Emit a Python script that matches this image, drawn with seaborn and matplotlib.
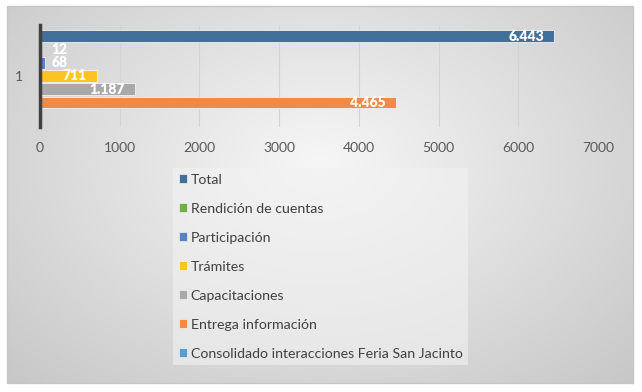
import numpy as np
import pandas as pd
import matplotlib.pyplot as plt
from matplotlib.patches import Patch, Rectangle
import seaborn as sns

# Datos
categoria = ["1"]
series = ["Total", "Rendición de cuentas", "Participación", "Trámites",
          "Capacitaciones", "Entrega información",
          "Consolidado interacciones Feria San Jacinto"]
valores = [6443, 12, 68, 711, 1187, 4465, 0]
etiquetas = ["6.443", "12", "68", "711", "1.187", "4.465", ""]
colores = ["#42709b", "#70ad47", "#5a80c6", "#fcc423", "#a9a9a9", "#ef8a48", "#5b9bd5"]
xticks = [0, 1000, 2000, 3000, 4000, 5000, 6000, 7000]

df = pd.DataFrame({"cat": categoria * len(series), "serie": series, "valor": valores})

sns.set_theme(style="white")
plt.rcParams["font.family"] = ["Lato", "DejaVu Sans"]

W, H = 642, 392
fig = plt.figure(figsize=(W / 100, H / 100), dpi=100)
fig.patch.set_facecolor("white")

# fondo con degradado radial
bg = fig.add_axes([0, 0, 1, 1], zorder=-5)
bg.set_xlim(0, W)
bg.set_ylim(H, 0)
bg.axis("off")
gx, gy = np.meshgrid(np.linspace(0, 1, 300), np.linspace(0, 1, 200))
r = np.sqrt(((gx - 0.5) / 0.5) ** 2 + ((gy - 0.42) / 0.58) ** 2)
light = 0.965 - 0.19 * np.clip(r, 0, 1.45) / 1.45
bg.imshow(light, cmap="gray", vmin=0, vmax=1, extent=[7, 633, 383, 6],
          aspect="auto", interpolation="bicubic")
bg.add_patch(Rectangle((7, 6), 626, 377, fill=False, edgecolor="#c6c6c6", lw=1))

ax = fig.add_axes([40 / W, 1 - 127 / H, 558 / W, 102 / H])
ax.set_facecolor("none")
sns.barplot(data=df, x="valor", y="cat", hue="serie", hue_order=series,
            palette=colores, orient="h", width=0.91, gap=0.1, ax=ax,
            legend=False, edgecolor="#f2f2f2", linewidth=0.6, saturation=1)

ax.set_xlim(0, 7000)
ax.set_xticks(xticks)
ax.set_xlabel("")
ax.set_ylabel("")
ax.grid(axis="x", color="#d3d3d3", lw=0.8)
ax.set_axisbelow(True)
for s in ["top", "right", "bottom"]:
    ax.spines[s].set_visible(False)
ax.spines["left"].set_color("#404040")
ax.spines["left"].set_linewidth(2.5)
ax.spines["left"].set_zorder(5)
ax.tick_params(axis="x", length=0, pad=11, labelsize=10, labelcolor="#595959")
ax.tick_params(axis="y", length=0, pad=12, labelsize=10, labelcolor="#595959")

# etiquetas de datos
for cont, v, lab in zip(ax.containers, valores, etiquetas):
    if not lab:
        continue
    p = cont.patches[0]
    yc = p.get_y() + p.get_height() / 2
    if v >= 300:
        ax.annotate(lab, (v, yc), xytext=(-7, 0), textcoords="offset points",
                    ha="right", va="center", color="white", fontsize=10,
                    fontweight="heavy")
    else:
        ax.annotate(lab, (0, yc), xytext=(8.5, 0), textcoords="offset points",
                    ha="left", va="center", color="white", fontsize=10,
                    fontweight="heavy")

handles = [Patch(facecolor=c, edgecolor="#f2f2f2", lw=0.5) for c in colores]
leg = fig.legend(handles, series, loc="upper left", bbox_to_anchor=(173 / W, 1 - 168 / H),
                 frameon=True, fontsize=10.2, labelspacing=1.2, handlelength=0.6,
                 handleheight=0.6, handletextpad=0.25, borderpad=0.4, borderaxespad=0)
leg.get_frame().set_facecolor("#f2f2f2")
leg.get_frame().set_alpha(0.6)
leg.get_frame().set_edgecolor("none")
leg.get_frame().set_boxstyle("square", pad=0)
for t in leg.get_texts():
    t.set_color("#404040")

fig.savefig("out.png", dpi=100)
